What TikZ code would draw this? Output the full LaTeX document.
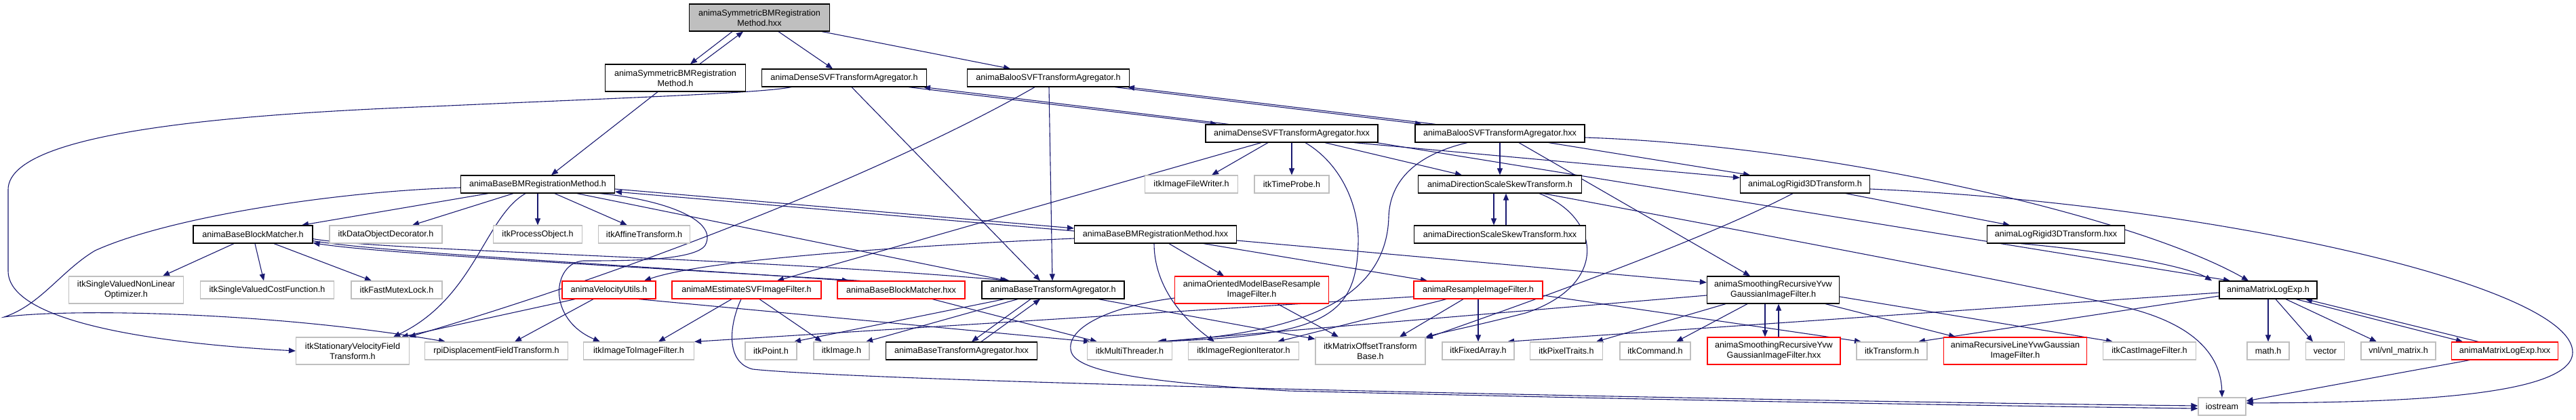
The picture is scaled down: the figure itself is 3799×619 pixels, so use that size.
\documentclass[tikz,border=0pt]{standalone}
\usepackage{fontspec}
\setmainfont{Liberation Sans}
\usetikzlibrary{arrows.meta}
\pgfdeclarelayer{bg}
\pgfsetlayers{bg,main}
\definecolor{edgeblue}{HTML}{191970}
\definecolor{extgray}{HTML}{BFBFBF}
\definecolor{topgray}{HTML}{BFBFBF}
\definecolor{badred}{HTML}{FF0000}
\definecolor{docblack}{HTML}{000000}
\newcommand{\nf}{\fontsize{12.6pt}{15pt}\selectfont}
\begin{document}
\begin{tikzpicture}[x=1pt,y=-1pt,
  box/.style={draw, fill=white, line width=1.2pt, inner sep=0pt, align=center, font=\nf, minimum height=26pt},
  two/.style={minimum height=40pt},
  doc/.style={box, draw=docblack},
  ext/.style={box, draw=extgray},
  bad/.style={box, draw=badred},
  topnode/.style={doc, fill=topgray},
  e/.style={draw=edgeblue, line width=1.1pt, -{Triangle[length=10pt,width=8pt]}}
]
\useasboundingbox (0,0) rectangle (3799,619);
% ---------- nodes ----------
\node[topnode,two,minimum width=207pt] (symhxx) at (1120,26) {animaSymmetricBMRegistration\\Method.hxx};
\node[doc,two,minimum width=207pt] (symh) at (996,115) {animaSymmetricBMRegistration\\Method.h};
\node[doc,minimum width=243pt] (densesvfh) at (1245,115) {animaDenseSVFTransformAgregator.h};
\node[doc,minimum width=239pt] (balooh) at (1546,115) {animaBalooSVFTransformAgregator.h};
\node[doc,minimum width=254pt] (densesvfhxx) at (1905,197) {animaDenseSVFTransformAgregator.hxx};
\node[doc,minimum width=250pt] (baloohxx) at (2212,197) {animaBalooSVFTransformAgregator.hxx};
\node[doc,minimum width=227pt] (basebmh) at (793,272) {animaBaseBMRegistrationMethod.h};
\node[ext,minimum width=137pt] (writer) at (1757,272) {itkImageFileWriter.h};
\node[ext,minimum width=110pt] (timeprobe) at (1905,272) {itkTimeProbe.h};
\node[doc,minimum width=241pt] (dssth) at (2212,272) {animaDirectionScaleSkewTransform.h};
\node[doc,minimum width=191pt] (logrigidh) at (2662,272) {animaLogRigid3DTransform.h};
\node[doc,minimum width=176pt] (bbmh) at (373,346) {animaBaseBlockMatcher.h};
\node[ext,minimum width=166pt] (decorator) at (569,346) {itkDataObjectDecorator.h};
\node[ext,minimum width=131pt] (processobj) at (793,346) {itkProcessObject.h};
\node[ext,minimum width=135pt] (affine) at (950,346) {itkAffineTransform.h};
\node[doc,minimum width=239pt] (basebmhxx) at (1704,346) {animaBaseBMRegistrationMethod.hxx};
\node[doc,minimum width=253pt] (dssthxx) at (2212,346) {animaDirectionScaleSkewTransform.hxx};
\node[doc,minimum width=203pt] (logrigidhxx) at (3032,346) {animaLogRigid3DTransform.hxx};
\node[ext,two,minimum width=169pt] (optimizer) at (186,428) {itkSingleValuedNonLinear\\Optimizer.h};
\node[ext,minimum width=197pt] (costfn) at (394,428) {itkSingleValuedCostFunction.h};
\node[ext,minimum width=134pt] (mutex) at (585,428) {itkFastMutexLock.h};
\node[bad,minimum width=138pt] (velocity) at (898,428) {animaVelocityUtils.h};
\node[bad,minimum width=220pt] (mestimate) at (1101,428) {animaMEstimateSVFImageFilter.h};
\node[bad,minimum width=188pt] (bbmhxx) at (1329,428) {animaBaseBlockMatcher.hxx};
\node[doc,minimum width=210pt] (btah) at (1553,428) {animaBaseTransformAgregator.h};
\node[bad,two,minimum width=227pt] (oriented) at (1846,428) {animaOrientedModelBaseResample\\ImageFilter.h};
\node[bad,minimum width=190pt] (resample) at (2180,428) {animaResampleImageFilter.h};
\node[doc,two,minimum width=195pt] (smoothh) at (2615,428) {animaSmoothingRecursiveYvw\\GaussianImageFilter.h};
\node[doc,minimum width=144pt] (matrixh) at (3345,428) {animaMatrixLogExp.h};
\node[ext,two,minimum width=167pt] (svf) at (520,518) {itkStationaryVelocityField\\Transform.h};
\node[ext,minimum width=211pt] (rpi) at (732,518) {rpiDisplacementFieldTransform.h};
\node[ext,minimum width=163pt] (i2i) at (942,518) {itkImageToImageFilter.h};
\node[ext,minimum width=76pt] (point) at (1137,518) {itkPoint.h};
\node[ext,minimum width=82pt] (image) at (1241,518) {itkImage.h};
\node[doc,minimum width=223pt] (btahxx) at (1418,518) {animaBaseTransformAgregator.hxx};
\node[ext,minimum width=125pt] (multithreader) at (1666,518) {itkMultiThreader.h};
\node[ext,minimum width=163pt] (regioniter) at (1834,518) {itkImageRegionIterator.h};
\node[ext,two,minimum width=162pt] (motb) at (2021,518) {itkMatrixOffsetTransform\\Base.h};
\node[ext,minimum width=106pt] (fixedarray) at (2180,518) {itkFixedArray.h};
\node[ext,minimum width=107pt] (pixeltraits) at (2310,518) {itkPixelTraits.h};
\node[ext,minimum width=104pt] (command) at (2441,518) {itkCommand.h};
\node[bad,two,minimum width=196pt] (smoothhxx) at (2616,518) {animaSmoothingRecursiveYvw\\GaussianImageFilter.hxx};
\node[ext,minimum width=104pt] (transform) at (2790,518) {itkTransform.h};
\node[bad,two,minimum width=211pt] (recline) at (2972,518) {animaRecursiveLineYvwGaussian\\ImageFilter.h};
\node[ext,minimum width=137pt] (cast) at (3170,518) {itkCastImageFilter.h};
\node[ext,minimum width=62pt] (math) at (3345,518) {math.h};
\node[ext,minimum width=57pt] (vector) at (3429,518) {vector};
\node[ext,minimum width=110pt] (vnl) at (3537,518) {vnl/vnl\_matrix.h};
\node[bad,minimum width=157pt] (matrixhxx) at (3694,518) {animaMatrixLogExp.hxx};
\node[ext,minimum width=70pt] (iostream) at (3277,600) {iostream};
% ---------- edges ----------
\begin{pgfonlayer}{bg}
\draw[e] ([xshift=-40pt]symhxx.south) -- ([xshift=22pt]symh.north);
\draw[e] ([xshift=36pt]symh.north) -- ([xshift=-24pt]symhxx.south);
\draw[e] ([xshift=28pt]symhxx.south) -- ([xshift=-17pt]densesvfh.north);
\draw[e] ([xshift=92pt]symhxx.south) -- ([xshift=-56pt]balooh.north);
\draw[e] ([xshift=-26pt]symh.south) -- ([xshift=20pt]basebmh.north);
\draw[e] ([xshift=95pt]densesvfh.south) -- ([xshift=-110pt]densesvfhxx.north);
\draw[e] ([xshift=-93pt]densesvfhxx.north) -- ([xshift=117pt]densesvfh.south);
\draw[e] ([xshift=98pt]balooh.south) -- ([xshift=-115pt]baloohxx.north);
\draw[e] ([xshift=-95pt]baloohxx.north) -- ([xshift=117pt]balooh.south);
\draw[e] ([xshift=-78pt]densesvfh.south) .. controls (1120,138) and (900,145) .. (640,157) .. controls (300,170) and (12,200) .. (12,280) -- (12,400) .. controls (12,470) and (200,505) .. (svf.west);
\draw[e] ([xshift=11pt]densesvfh.south) -- ([xshift=-19pt]btah.north);
\draw[e] ([xshift=1pt]balooh.south) -- ([xshift=-1pt]btah.north);
\draw[e] ([xshift=-20pt]balooh.south) .. controls (1350,230) and (1000,380) .. ([xshift=-1pt]svf.north east);
\draw[e] ([xshift=-35pt]densesvfhxx.south) -- ([xshift=30pt]writer.north);
\draw[e] (densesvfhxx.south) -- (timeprobe.north);
\draw[e] ([xshift=49pt]densesvfhxx.south) -- ([xshift=-56pt]dssth.north);
\draw[e] ([xshift=92pt]densesvfhxx.south) -- ([yshift=-4pt]logrigidh.north west);
\draw[e] ([xshift=125pt]densesvfhxx.south) -- ([xshift=-56pt]matrixh.north);
\draw[e] ([xshift=-45pt]densesvfhxx.south) -- ([xshift=45pt]mestimate.north);
\draw[e] ([xshift=20pt]densesvfhxx.south) .. controls (1975,240) and (2005,300) .. (2003,360) .. controls (2000,470) and (1950,495) .. ([xshift=40pt]multithreader.north);
\draw[e] (baloohxx.south) -- (dssth.north);
\draw[e] ([xshift=72pt]baloohxx.south) -- ([xshift=-81pt]logrigidh.north);
\draw[e] ([xshift=28pt]baloohxx.south) -- ([xshift=-34pt]smoothh.north);
\draw[e] ([yshift=-6pt]baloohxx.east) .. controls (2700,215) and (3150,320) .. ([xshift=-29pt]matrixh.north);
\draw[e] ([xshift=-48pt]baloohxx.south) .. controls (2090,228) and (2050,265) .. (2048,320) .. controls (2045,450) and (1900,492) .. ([xshift=44pt]multithreader.north);
\draw[e] ([xshift=60pt]logrigidh.south) -- ([xshift=-68pt]logrigidhxx.north);
\draw[e] ([yshift=-7pt]logrigidh.east) .. controls (3250,300) and (3794,420) .. (3794,520) .. controls (3794,590) and (3500,594) .. ([yshift=5pt]iostream.east);
\draw[e] ([xshift=-18pt]logrigidh.south) .. controls (2520,350) and (2300,430) .. ([yshift=-2pt]motb.north east);
\draw[e] ([xshift=-9pt]dssth.south) -- ([xshift=-9pt]dssthxx.north);
\draw[e] ([xshift=9pt]dssthxx.north) -- ([xshift=9pt]dssth.south);
\draw[e] ([xshift=64pt]dssth.south) .. controls (2700,365) and (3050,432) .. (3140,455) .. controls (3230,478) and (3275,520) .. (iostream.north);
\draw[e] ([xshift=58pt]dssth.south) .. controls (2360,320) and (2375,420) .. (2250,462) .. controls (2180,480) and (2130,490) .. (motb.north east);
\draw[e] ([xshift=-52pt]logrigidhxx.south) .. controls (3120,372) and (3230,395) .. ([xshift=-83pt]matrixh.north);
\draw[e] ([yshift=-7pt]basebmh.east) -- ([yshift=9pt]basebmhxx.west);
\draw[e] ([yshift=5pt]basebmhxx.west) -- ([yshift=-11pt]basebmh.east);
\draw[e] ([xshift=-73pt]basebmh.south) -- ([xshift=72pt]bbmh.north);
\draw[e] ([xshift=-36pt]basebmh.south) -- ([xshift=39pt]decorator.north);
\draw[e] (basebmh.south) -- (processobj.north);
\draw[e] ([xshift=25pt]basebmh.south) -- ([xshift=-25pt]affine.north);
\draw[e] ([xshift=-18pt]basebmh.south) .. controls (715,320) and (700,440) .. ([xshift=60pt]svf.north);
\draw[e] ([yshift=-5pt]basebmh.west) .. controls (500,282) and (250,320) .. (140,370) .. controls (90,400) and (60,450) .. (6,468) .. controls (100,455) and (400,460) .. ([xshift=-75pt]rpi.north);
\draw[e] ([xshift=58pt]basebmh.south) -- ([xshift=-68pt]btah.north);
\draw[e] ([xshift=92pt]basebmh.south) .. controls (980,295) and (1060,325) .. (1040,362) .. controls (1025,385) and (920,385) .. (860,385) .. controls (815,388) and (805,470) .. ([xshift=-57pt]i2i.north);
\draw[e] ([xshift=-28pt]bbmh.south) -- ([xshift=54pt]optimizer.north);
\draw[e] ([xshift=3pt]bbmh.south) -- ([xshift=-5pt]costfn.north);
\draw[e] ([xshift=31pt]bbmh.south) -- ([xshift=-37pt]mutex.north);
\draw[e] ([yshift=4pt]bbmh.south east) .. controls (560,372) and (900,390) .. ([xshift=-77pt]bbmhxx.north);
\draw[e] ([xshift=-60pt]bbmhxx.north) .. controls (900,392) and (560,374) .. ([yshift=1pt]bbmh.south east);
\draw[e] ([yshift=7pt]bbmh.south east) .. controls (560,370) and (1100,380) .. ([xshift=-64pt]btah.north);
\draw[e] ([xshift=46pt]bbmhxx.south) -- ([xshift=-48pt]multithreader.north);
\draw[e] ([yshift=-6pt]basebmhxx.west) .. controls (1400,360) and (1050,380) .. ([xshift=52pt]velocity.north);
\draw[e] ([xshift=20pt]basebmhxx.south) -- ([xshift=-41pt]oriented.north);
\draw[e] ([xshift=71pt]basebmhxx.south) -- ([xshift=-75pt]resample.north);
\draw[e] ([xshift=-2pt]basebmhxx.south) .. controls (1702,410) and (1730,460) .. ([xshift=-43pt]regioniter.north);
\draw[e] ([yshift=-9pt]basebmhxx.east) -- ([yshift=11pt]smoothh.west);
\draw[e] ([xshift=-50pt]velocity.south) -- ([xshift=72pt]svf.north);
\draw[e] ([xshift=-23pt]velocity.south) -- ([xshift=27pt]rpi.north);
\draw[e] ([xshift=44pt]velocity.south) -- ([xshift=-58pt]multithreader.north);
\draw[e] ([xshift=-22pt]mestimate.south) -- ([xshift=29pt]i2i.north);
\draw[e] ([xshift=19pt]mestimate.south) -- ([xshift=-29pt]image.north);
\draw[e] ([xshift=-8pt]mestimate.south) .. controls (1075,480) and (1070,535) .. (1110,545) .. controls (1300,565) and (2600,592) .. ([yshift=1pt]iostream.west);
\draw[e] ([xshift=-72pt]btah.south) -- ([xshift=34pt]point.north);
\draw[e] ([xshift=-52pt]btah.south) -- ([xshift=36pt]image.north);
\draw[e] ([xshift=-33pt]btah.south) -- ([xshift=15pt]btahxx.north);
\draw[e] ([xshift=29pt]btahxx.north) -- ([xshift=-19pt]btah.south);
\draw[e] ([xshift=67pt]btah.south) -- ([yshift=-3pt]motb.north west);
\draw[e] ([xshift=38pt]oriented.south) -- ([xshift=-47pt]motb.north);
\draw[e] ([yshift=-12pt]oriented.west) .. controls (1620,455) and (1570,490) .. (1580,520) .. controls (1590,550) and (1700,565) .. (1900,577) .. controls (2500,592) and (3000,600) .. ([yshift=-3pt]iostream.west);
\draw[e] ([yshift=-10pt]resample.west) -- (i2i.north east);
\draw[e] ([xshift=-47pt]resample.south) -- ([xshift=50pt]regioniter.north);
\draw[e] ([xshift=-22pt]resample.south) -- ([xshift=43pt]motb.north);
\draw[e] (resample.south) -- (fixedarray.north);
\draw[e] ([yshift=-8pt]resample.east) -- ([xshift=-45pt]transform.north);
\draw[e] ([xshift=-12pt]smoothh.south) -- ([xshift=-13pt]smoothhxx.north);
\draw[e] ([xshift=7pt]smoothhxx.north) -- ([xshift=8pt]smoothh.south);
\draw[e] ([xshift=77pt]smoothh.south) -- ([xshift=-88pt]recline.north);
\draw[e] ([yshift=-10pt]smoothh.east) -- ([xshift=-54pt]cast.north);
\draw[e] ([xshift=-38pt]smoothh.south) -- ([xshift=31pt]command.north);
\draw[e] ([xshift=-70pt]smoothh.south) -- ([xshift=44pt]pixeltraits.north);
\draw[e] ([yshift=-8pt]smoothh.west) -- ([xshift=43pt]multithreader.north);
\draw[e] ([yshift=-4pt]matrixh.west) -- ([xshift=43pt]fixedarray.north);
\draw[e] ([yshift=-9pt]matrixh.west) -- ([xshift=39pt]transform.north);
\draw[e] (matrixh.south) -- (math.north);
\draw[e] ([xshift=11pt]matrixh.south) -- ([xshift=-18pt]vector.north);
\draw[e] ([xshift=26pt]matrixh.south) -- ([xshift=-32pt]vnl.north);
\draw[e] ([xshift=41pt]matrixh.south) -- ([xshift=-62pt]matrixhxx.north);
\draw[e] ([xshift=-39pt]matrixhxx.north) -- ([xshift=55pt]matrixh.south);
\draw[e] ([xshift=-52pt]matrixhxx.south) -- ([yshift=8pt]iostream.east);
\end{pgfonlayer}
\end{tikzpicture}
\end{document}
